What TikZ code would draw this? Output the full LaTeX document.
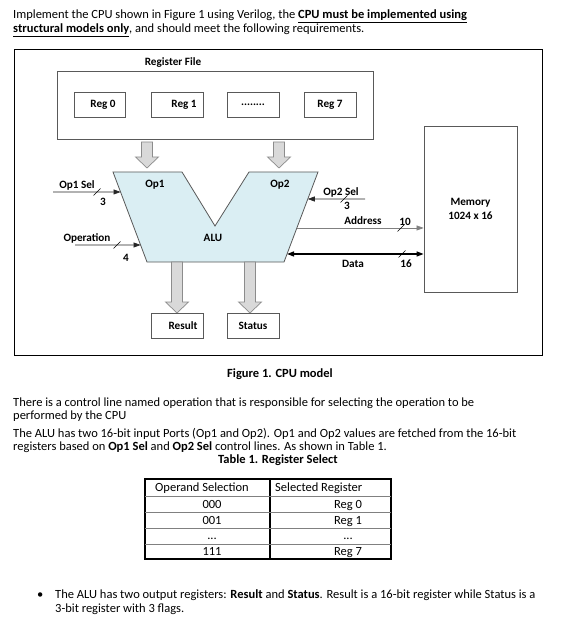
\documentclass[tikz,border=0pt]{standalone}
\usepackage{fontspec}
\setmainfont{Carlito}
\usepackage{xcolor}
\usepackage{tikz}
\usetikzlibrary{arrows.meta, positioning, calc}

\definecolor{alublue}{HTML}{DAEEF3}
\definecolor{boxgray}{HTML}{595959}
\definecolor{fatgray}{HTML}{D9D9D9}
\definecolor{fatedge}{HTML}{8C8C8C}

\newcommand{\bodytext}{\fontsize{12.5}{14}\selectfont}
\newcommand{\diagtext}{\fontsize{11.2}{14}\selectfont\bfseries}
\newcommand{\rowdots}{...}
% wide grey arrow: x, top, tip
\newcommand{\fatarrow}[3]{%
  \filldraw[fill=fatgray, draw=fatedge, line width=0.7pt] (#1-5.5,#2) -- (#1+5.5,#2) -- (#1+5.5,#3-11)
    -- (#1+11.5,#3-11) -- (#1,#3) -- (#1-11.5,#3-11) -- (#1-5.5,#3-11) -- cycle;}
% bus width mark
\newcommand{\busmark}[2]{\draw[line width=0.5pt] (#1,#2) ++(-3.5,3.5) -- ++(7,-7);}

\tikzset{
  regbox/.style={draw=boxgray, line width=0.8pt, minimum width=52pt, minimum height=25pt, inner sep=0pt},
  bus/.style={line width=0.6pt, draw=black!85},
  line/.style={font=\bodytext, anchor=base west, inner sep=0pt}
}

\begin{document}
\begin{tikzpicture}[x=1pt, y=-1pt, font=\diagtext, >={Triangle[length=7pt,width=5pt]}]
  \useasboundingbox (0,0) rectangle (575,617);

  % task text
  \node[line] (intro1) at (13,19) {Implement the CPU shown in Figure 1 using Verilog, the \underline{\textbf{CPU must be implemented using}}};
  \node[line] (intro2) at (13,33) {\underline{\textbf{structural models only}}, and should meet the following requirements.};

  % figure
  \draw[line width=0.9pt] (14,49) rectangle (542,355);
  \node (rftitle) at (173,63) {Register File};
  \node[regbox, minimum width=316pt, minimum height=68pt] (regfile) at (215,105) {};
  \node[regbox, minimum width=51pt] (reg0) at (99.5,104.5) {\hspace*{7pt}Reg 0};
  \node[regbox] (reg1) at (177,104.5) {\hspace*{14pt}Reg 1};
  \node[regbox] (regdots) at (253,104.5) {........};
  \node[regbox] (reg7) at (330,104.5) {Reg 7};

  \fatarrow{147}{142}{168}
  \fatarrow{279}{142}{168}

  \filldraw[fill=alublue, draw=boxgray, line width=0.8pt]
    (113,172) coordinate (aluA) -- (182,172) -- (215,226) -- (249,172)
    -- (318,172) coordinate (aluD) -- (284,262) coordinate (aluE)
    -- (147,262) coordinate (aluF) -- cycle;
  \node (op1) at (155,185) {Op1};
  \node (op2) at (280,185) {Op2};
  \node (alu) at (213,238) {ALU};

  \coordinate (op1in) at ($(aluA)!0.222!(aluF)$);
  \coordinate (opin) at ($(aluA)!0.811!(aluF)$);
  \coordinate (op2in) at ($(aluD)!0.3!(aluE)$);
  \coordinate (addrout) at ($(aluD)!0.622!(aluE)$);
  \coordinate (dataout) at ($(aluD)!0.911!(aluE)$);

  \node[regbox, minimum width=93pt, minimum height=166pt, align=center] (mem) at (470.5,209) {Memory\\1024 x 16};

  % control lines
  \coordinate (op1start) at (53,192);
  \draw[bus,->] (op1start) -- (op1in);
  \busmark{97}{192}
  \node (op1sel) at (77,185) {Op1 Sel};
  \node (op1w) at (103,202) {3};

  \coordinate (opstart) at (75,245);
  \draw[bus,->] (opstart) -- (opin);
  \busmark{117}{245}
  \node (opname) at (87,238) {Operation};
  \node (opw) at (126,258) {4};

  \coordinate (op2start) at (365,199);
  \draw[bus,->] (op2start) -- (op2in);
  \busmark{344}{199}
  \node (op2sel) at (341,192) {Op2 Sel};
  \node (op2w) at (347,206) {3};

  \draw[line width=0.6pt, draw=gray, ->] (addrout) -- (addrout -| mem.west);
  \busmark{401}{228}
  \node (addr) at (363,221) {Address};
  \node (addrw) at (405,222) {10};

  \draw[line width=1.3pt, <->] (dataout) -- (dataout -| mem.west);
  \busmark{402}{254}
  \node (data) at (353,264) {Data};
  \node (dataw) at (406,264) {16};

  \fatarrow{177}{262}{313}
  \fatarrow{250}{262}{313}
  \node[regbox] (result) at (177,325.5) {\hspace*{12pt}Result};
  \node[regbox] (status) at (253,325.5) {Status};

  \node[font=\bodytext\bfseries] (caption) at (280,374) {Figure 1. CPU model};

  % requirements text
  \node[line] (par1) at (13,406) {There is a control line named operation that is responsible for selecting the operation to be};
  \node[line] (par2) at (13,419) {performed by the CPU};
  \node[line] (par3) at (13,437) {The ALU has two 16-bit input Ports (Op1 and Op2). Op1 and Op2 values are fetched from the 16-bit};
  \node[line] (par4) at (13,450) {registers based on \textbf{Op1 Sel} and \textbf{Op2 Sel} control lines. As shown in Table 1.};
  \node[font=\bodytext\bfseries] (tabtitle) at (278,460) {Table 1. Register Select};

  % table
  \draw[line width=1.2pt] (145,479) rectangle (391,559);
  \draw[line width=1.2pt] (270,479) -- (270,559);
  \foreach \y in {496,512,528,544}
    \draw[gray, line width=0.6pt] (145,\y) -- (391,\y);
  \node[line] (colsel) at (155,491) {Operand Selection};
  \node[line] (colreg) at (275,491) {Selected Register};
  \foreach \code/\reg/\yb [count=\i] in {000/Reg 0/508, 001/Reg 1/524, \rowdots/\rowdots/539, 111/Reg 7/555} {
    \node[font=\bodytext, anchor=base, inner sep=0pt] (code\i) at (212,\yb) {\code};
    \node[font=\bodytext, anchor=base, inner sep=0pt] (sel\i) at (348,\yb) {\reg};
  }

  % bullet
  \node[line] (dot) at (37,598) {\textbullet};
  \node[line] (bul1) at (55,598) {The ALU has two output registers: \textbf{Result} and \textbf{Status}. Result is a 16-bit register while Status is a};
  \node[line] (bul2) at (55,612) {3-bit register with 3 flags.};
\end{tikzpicture}
\end{document}
